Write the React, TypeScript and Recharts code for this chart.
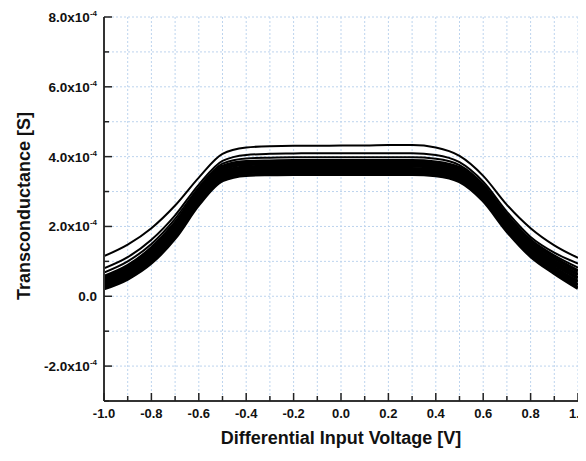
import React from 'react';
import { LineChart, Line, XAxis, YAxis, CartesianGrid } from 'recharts';

// Differential input voltage [V]
const xValues = [-1.0, -0.9, -0.8, -0.7, -0.6, -0.5, -0.4, -0.3, -0.2, -0.1, 0.0, 0.1, 0.2, 0.3, 0.4, 0.5, 0.6, 0.7, 0.8, 0.9, 1.0];

// Transconductance curves, in units of 1e-4 S
const curveA = [1.15, 1.48, 1.95, 2.60, 3.40, 4.08, 4.26, 4.30, 4.31, 4.31, 4.32, 4.32, 4.33, 4.33, 4.26, 4.02, 3.45, 2.62, 1.95, 1.46, 1.10];
const curveB = [0.80, 1.12, 1.62, 2.32, 3.20, 3.88, 4.05, 4.08, 4.09, 4.10, 4.10, 4.10, 4.10, 4.10, 4.05, 3.84, 3.28, 2.42, 1.70, 1.25, 0.94];
const curveC = [0.68, 1.00, 1.50, 2.22, 3.12, 3.80, 3.95, 3.97, 3.98, 3.98, 3.98, 3.98, 3.98, 3.98, 3.94, 3.76, 3.21, 2.35, 1.63, 1.17, 0.82];
const curveD1 = [0.56, 0.87, 1.38, 2.10, 3.03, 3.72, 3.85, 3.87, 3.88, 3.88, 3.88, 3.88, 3.88, 3.88, 3.84, 3.68, 3.14, 2.28, 1.57, 1.10, 0.72];
const curveD2 = [0.49, 0.79, 1.29, 2.01, 2.95, 3.64, 3.78, 3.80, 3.80, 3.81, 3.81, 3.81, 3.81, 3.80, 3.76, 3.60, 3.06, 2.19, 1.48, 1.00, 0.62];
const curveD3 = [0.42, 0.71, 1.20, 1.92, 2.87, 3.56, 3.70, 3.72, 3.73, 3.73, 3.73, 3.74, 3.73, 3.73, 3.69, 3.52, 2.98, 2.11, 1.39, 0.91, 0.52];
const curveD4 = [0.35, 0.64, 1.12, 1.84, 2.79, 3.48, 3.62, 3.65, 3.65, 3.66, 3.66, 3.66, 3.66, 3.65, 3.61, 3.45, 2.90, 2.03, 1.31, 0.82, 0.42];
const curveD5 = [0.29, 0.57, 1.04, 1.75, 2.71, 3.40, 3.55, 3.57, 3.58, 3.58, 3.58, 3.58, 3.58, 3.58, 3.54, 3.37, 2.82, 1.95, 1.23, 0.74, 0.32];
const curveD6 = [0.22, 0.50, 0.96, 1.67, 2.63, 3.32, 3.47, 3.49, 3.50, 3.50, 3.50, 3.50, 3.50, 3.50, 3.46, 3.29, 2.74, 1.87, 1.15, 0.66, 0.23];

const xTicks = [-1.0, -0.9, -0.8, -0.7, -0.6, -0.5, -0.4, -0.3, -0.2, -0.1, 0.0, 0.1, 0.2, 0.3, 0.4, 0.5, 0.6, 0.7, 0.8, 0.9, 1.0];
const yTicks = [-3, -2, -1, 0, 1, 2, 3, 4, 5, 6, 7, 8];

const xTitle = 'Differential Input Voltage [V]';
const yTitle = 'Transconductance [S]';

const separateCurves = [
  { key: 'a', values: curveA },
  { key: 'b', values: curveB },
  { key: 'c', values: curveC },
];
const bundleCurves = [
  { key: 'd1', values: curveD1 },
  { key: 'd2', values: curveD2 },
  { key: 'd3', values: curveD3 },
  { key: 'd4', values: curveD4 },
  { key: 'd5', values: curveD5 },
  { key: 'd6', values: curveD6 },
];

const data = xValues.map((x, i) => {
  const row: any = { x };
  [...separateCurves, ...bundleCurves].forEach((c) => {
    row[c.key] = c.values[i];
  });
  return row;
});

const FONT = 'Liberation Sans, Arial, Helvetica, sans-serif';
const TICK_COLOR = '#222';
const FRAME = { stroke: '#333', strokeWidth: 2 };

const isMajorX = (v: number) => Math.abs(Math.round(v * 10)) % 2 === 0;
const isMajorY = (v: number) => Math.abs(Math.round(v)) % 2 === 0;

const BottomTick = (props: any) => {
  const { x, y, payload } = props;
  const v = payload.value;
  const major = isMajorX(v);
  return (
    <g>
      <line x1={x} x2={x} y1={y} y2={y - (major ? 8 : 5)} stroke={TICK_COLOR} strokeWidth={1.5} />
      {major && (
        <text x={x} y={y + 17} textAnchor="middle" fontSize={13} fontWeight="bold" fill="#111" fontFamily={FONT}>
          {v.toFixed(1)}
        </text>
      )}
    </g>
  );
};

const TopTick = (props: any) => {
  const { x, y, payload } = props;
  const major = isMajorX(payload.value);
  return <line x1={x} x2={x} y1={y} y2={y + (major ? 7 : 5)} stroke={TICK_COLOR} strokeWidth={1.5} />;
};

const LeftTick = (props: any) => {
  const { x, y, payload } = props;
  const v = payload.value;
  const major = isMajorY(v);
  return (
    <g>
      <line x1={x} x2={x + (major ? 8 : 5)} y1={y} y2={y} stroke={TICK_COLOR} strokeWidth={1.5} />
      {major && (
        <text x={x - 7} y={y + 5} textAnchor="end" fontSize={13.5} fontWeight="bold" fill="#111" fontFamily={FONT}>
          {v === 0 ? '0.0' : (
            <>
              {v.toFixed(1)}x10
              <tspan dy={-6} fontSize={8}>-4</tspan>
            </>
          )}
        </text>
      )}
    </g>
  );
};

const RightTick = (props: any) => {
  const { x, y, payload } = props;
  const major = isMajorY(payload.value);
  return <line x1={x} x2={x - (major ? 8 : 5)} y1={y} y2={y} stroke={TICK_COLOR} strokeWidth={1.5} />;
};

const XTitle = (p: any) => {
  const vb = p.viewBox;
  return (
    <text x={vb.x + vb.width / 2} y={vb.y + 43} textAnchor="middle" fontSize={18} fontWeight="bold" fill="#111" fontFamily={FONT}>
      {xTitle}
    </text>
  );
};

const YTitle = (p: any) => {
  const vb = p.viewBox;
  const cx = 16;
  const cy = vb.y + vb.height / 2 - 3;
  return (
    <text
      x={cx}
      y={cy}
      transform={`rotate(-90, ${cx}, ${cy})`}
      textAnchor="middle"
      dominantBaseline="central"
      fontSize={18}
      fontWeight="bold"
      fill="#111"
      fontFamily={FONT}
    >
      {yTitle}
    </text>
  );
};

export default function App() {
  return (
    <LineChart width={578} height={445} data={data} margin={{ top: 9, right: 8, bottom: 0, left: 0 }}>
      <CartesianGrid xAxisId="bottom" yAxisId="left" stroke="#bdd4ee" strokeDasharray="2 2" strokeWidth={1} />
      <XAxis
        xAxisId="bottom"
        dataKey="x"
        type="number"
        domain={[-1, 1]}
        ticks={xTicks}
        interval={0}
        allowDataOverflow
        tickSize={0}
        tickMargin={0}
        tickLine={false}
        axisLine={FRAME}
        tick={BottomTick}
        height={52}
        label={XTitle}
      />
      <XAxis
        xAxisId="top"
        orientation="top"
        dataKey="x"
        type="number"
        domain={[-1, 1]}
        ticks={xTicks}
        interval={0}
        allowDataOverflow
        tickSize={0}
        tickMargin={0}
        tickLine={false}
        axisLine={FRAME}
        tick={TopTick}
        height={0}
      />
      <YAxis
        yAxisId="left"
        type="number"
        domain={[-3, 8]}
        ticks={yTicks}
        interval={0}
        allowDataOverflow
        tickSize={0}
        tickMargin={0}
        tickLine={false}
        axisLine={FRAME}
        tick={LeftTick}
        width={96}
        label={YTitle}
      />
      <YAxis
        yAxisId="right"
        orientation="right"
        type="number"
        domain={[-3, 8]}
        ticks={yTicks}
        interval={0}
        allowDataOverflow
        tickSize={0}
        tickMargin={0}
        tickLine={false}
        axisLine={FRAME}
        tick={RightTick}
        width={0}
      />
      {bundleCurves.map((c) => (
        <Line
          key={c.key}
          xAxisId="bottom"
          yAxisId="left"
          dataKey={c.key}
          type="monotone"
          stroke="#000"
          strokeWidth={3.6}
          dot={false}
          activeDot={false}
          isAnimationActive={false}
        />
      ))}
      {separateCurves.map((c) => (
        <Line
          key={c.key}
          xAxisId="bottom"
          yAxisId="left"
          dataKey={c.key}
          type="monotone"
          stroke="#000"
          strokeWidth={2}
          dot={false}
          activeDot={false}
          isAnimationActive={false}
        />
      ))}
      <Line
        xAxisId="top"
        yAxisId="right"
        dataKey="a"
        stroke="none"
        dot={false}
        activeDot={false}
        legendType="none"
        isAnimationActive={false}
      />
    </LineChart>
  );
}
